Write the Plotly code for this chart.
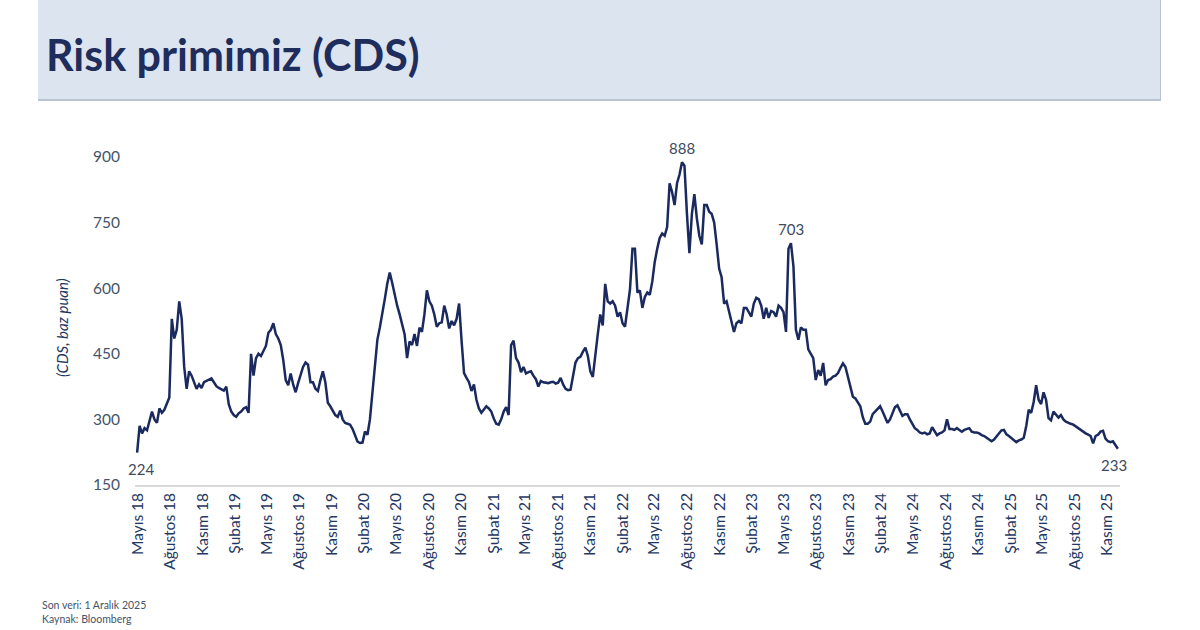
import plotly.graph_objects as go
import pandas as pd

# Weekly CDS (bp), from ~end of April 2018 to 1 Dec 2025
cds_values = [
    224, 285, 268, 280, 275, 300, 318, 300, 292, 325, 315, 322, 335, 350, 530, 485, 505, 570, 530, 420,
    370, 410, 400, 385, 370, 380, 372, 385, 388, 392, 394, 385, 376, 372, 368, 366, 375, 335, 318, 310,
    306, 314, 318, 325, 328, 315, 450, 400, 440, 450, 445, 455, 468, 498, 505, 520, 495, 485, 470, 436,
    390, 378, 405, 380, 362, 383, 400, 420, 430, 425, 385, 385, 370, 365, 390, 410, 385, 338, 330, 318,
    310, 306, 320, 300, 292, 290, 288, 278, 262, 249, 246, 247, 272, 265, 300, 365, 430, 482, 510, 540,
    575, 610, 636, 612, 585, 560, 540, 520, 495, 440, 478, 470, 495, 468, 510, 500, 540, 595, 570, 560,
    540, 512, 520, 522, 560, 540, 508, 525, 515, 530, 565, 480, 406, 395, 385, 365, 380, 345, 325, 315,
    322, 330, 325, 318, 302, 290, 288, 300, 318, 328, 310, 470, 480, 440, 430, 408, 420, 405, 408, 410,
    400, 392, 375, 388, 385, 384, 383, 385, 386, 382, 384, 395, 380, 370, 367, 368, 400, 430, 440, 443,
    455, 464, 445, 410, 397, 450, 495, 540, 515, 610, 570, 565, 570, 560, 535, 545, 520, 512, 551, 597,
    690, 690, 590, 595, 555, 580, 590, 585, 615, 660, 690, 715, 725, 720, 740, 840, 820, 790, 840, 860,
    888, 880, 770, 680, 770, 815, 760, 720, 700, 790, 790, 775, 770, 750, 700, 645, 625, 565, 570, 545,
    525, 500, 520, 525, 520, 555, 555, 545, 535, 565, 578, 575, 560, 530, 555, 532, 548, 545, 535, 560,
    555, 545, 500, 690, 703, 650, 505, 482, 510, 505, 505, 460, 450, 440, 390, 413, 400, 429, 378, 390,
    392, 398, 400, 406, 418, 428, 420, 395, 375, 352, 348, 340, 330, 305, 290, 290, 295, 312, 318, 325,
    330, 318, 304, 292, 300, 315, 328, 332, 318, 308, 312, 312, 300, 290, 280, 276, 270, 268, 270, 266,
    268, 282, 272, 264, 268, 270, 275, 300, 278, 278, 276, 280, 276, 272, 276, 278, 280, 272, 270, 270,
    268, 264, 262, 258, 254, 250, 254, 262, 268, 275, 276, 266, 262, 258, 252, 248, 252, 254, 258, 285,
    322, 315, 340, 378, 345, 335, 362, 345, 303, 298, 318, 310, 304, 310, 300, 295, 292, 290, 288, 284,
    278, 275, 271, 268, 265, 262, 245, 262, 265, 272, 274, 256, 250, 248, 250, 242, 233,
]
dates = pd.date_range(end="2025-12-01", periods=len(cds_values), freq="7D")

tick_dates = pd.date_range("2018-05-01", "2025-11-01", freq="3MS")
tick_labels = [
    "Mayıs 18", "Ağustos 18", "Kasım 18", "Şubat 19", "Mayıs 19", "Ağustos 19", "Kasım 19",
    "Şubat 20", "Mayıs 20", "Ağustos 20", "Kasım 20", "Şubat 21", "Mayıs 21", "Ağustos 21",
    "Kasım 21", "Şubat 22", "Mayıs 22", "Ağustos 22", "Kasım 22", "Şubat 23", "Mayıs 23",
    "Ağustos 23", "Kasım 23", "Şubat 24", "Mayıs 24", "Ağustos 24", "Kasım 24", "Şubat 25",
    "Mayıs 25", "Ağustos 25", "Kasım 25",
]
y_ticks = [150, 300, 450, 600, 750, 900]

title_text = "Risk primimiz (CDS)"
y_title = "(CDS, baz puan)"
footer_lines = ["Son veri: 1 Aralık 2025", "Kaynak: Bloomberg"]

W, H = 1200, 630
ML, MR, MT, MB = 135, 80, 157, 145
PW, PH = W - ML - MR, H - MT - MB


def px(x):
    return (x - ML) / PW


def py(y):
    return (H - MB - y) / PH


NAVY = "#1B2A5E"
LABEL = "#44546A"
FONT = "Lato"

fig = go.Figure()
fig.add_trace(go.Scatter(x=dates, y=cds_values, mode="lines",
                         line=dict(color=NAVY, width=2.5), hoverinfo="skip",
                         showlegend=False))

# banner
fig.add_shape(type="rect", xref="paper", yref="paper",
              x0=px(38), x1=px(1161), y0=py(101), y1=py(0),
              fillcolor="#B9C3D0", line_width=0, layer="below")
fig.add_shape(type="rect", xref="paper", yref="paper",
              x0=px(38), x1=px(1160), y0=py(99), y1=py(0),
              fillcolor="#DCE4EF", line_width=0, layer="below")
fig.add_annotation(xref="paper", yref="paper", x=px(44), y=py(55),
                   xanchor="left", yanchor="middle", showarrow=False,
                   text=f"<b>{title_text}</b>",
                   font=dict(family=FONT, size=43, color="#1F2D5C"))

# y title
fig.add_annotation(xref="paper", yref="paper", x=px(62), y=py(328),
                   xanchor="center", yanchor="middle", showarrow=False,
                   textangle=-90, text=f"<i>{y_title}</i>",
                   font=dict(family=FONT, size=15, color="#1F3864"))

# footer
for i, t in enumerate(footer_lines):
    fig.add_annotation(xref="paper", yref="paper", x=px(40), y=py(605 + 14 * i),
                       xanchor="left", yanchor="middle", showarrow=False,
                       text=t, font=dict(family=FONT, size=10.5, color="#44546A"))

# value labels
imax = max(range(len(cds_values)), key=lambda i: cds_values[i])
i703 = max(range(240, 300), key=lambda i: cds_values[i])
labels = [(0, -16, 4), (imax, 14, 0), (i703, 14, 0), (len(cds_values) - 1, -16, -4)]
for i, ys, xs in labels:
    fig.add_annotation(x=dates[i], y=cds_values[i], text=str(cds_values[i]),
                       showarrow=False, yshift=ys, xshift=xs,
                       font=dict(family=FONT, size=15, color="#404A60"))

fig.update_layout(
    width=W, height=H,
    margin=dict(l=ML, r=MR, t=MT, b=MB),
    paper_bgcolor="white", plot_bgcolor="white",
    xaxis=dict(type="date", range=["2018-04-24", "2025-12-07"],
               tickmode="array", tickvals=tick_dates, ticktext=tick_labels,
               tickangle=-90, showgrid=False, zeroline=False,
               showline=True, linecolor="#D9D9D9", linewidth=1.5, ticks="",
               tickfont=dict(family=FONT, size=15.5, color="#1F3864")),
    yaxis=dict(range=[150, 900], tickmode="array", tickvals=y_ticks,
               showgrid=False, zeroline=False, showline=False, ticks="",
               ticklabelstandoff=14,
               tickfont=dict(family=FONT, size=15.5, color=LABEL)),
)

fig.write_html("out.html")
